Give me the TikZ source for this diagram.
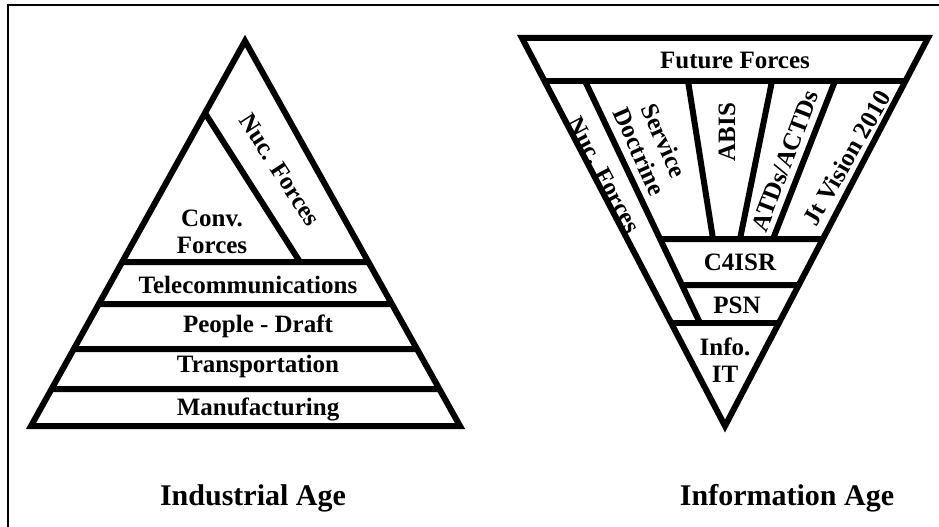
\documentclass[tikz,border=0pt]{standalone}
\usepackage{fontspec}
\setmainfont{Liberation Serif}
\tikzset{
    %heavy outline of the pyramids
    heavy/.style={line width=6pt, line join=miter},
    lbl/.style={font=\fontsize{25}{27}\selectfont\bfseries, inner sep=0pt, align=center},
}

\begin{document}
\begin{tikzpicture}[x=1pt, y=-1pt,
    agelbl/.style={font=\fontsize{30}{34}\selectfont\bfseries, inner sep=0pt},
  ]
  \useasboundingbox (0,0) rectangle (939,527);
  \draw[line width=2.5pt] (8,527) -- (8,5) -- (939,5);
  % industrial age
  \coordinate (iTop) at (245,41);
  \coordinate (iLeft) at (31,426);
  \coordinate (iRight) at (460,426);
  \draw[heavy] (iTop) -- (iLeft) -- (iRight) -- cycle;
  \foreach \y in {262, 304, 349, 389} {
    \draw[heavy] (intersection of iTop--iLeft and 0,\y--1,\y)
      -- (intersection of iTop--iRight and 0,\y--1,\y);
  }
  \coordinate (iSplit) at (intersection of iTop--iLeft and 0,113--1,113);
  \coordinate (iSplitEnd) at (300,262);
  \draw[heavy] (iSplit) -- (iSplitEnd);
  \node[lbl] (conv) at (212,232) {Conv.\\Forces};
  \node[lbl, rotate=-57] (nucInd) at (280,170) {Nuc. Forces};
  \node[lbl] (telecom) at (248,285) {Telecommunications};
  \node[lbl] (people) at (258,326) {People - Draft};
  \node[lbl] (transport) at (258,366) {Transportation};
  \node[lbl] (manuf) at (258,409) {Manufacturing};
  \node[agelbl] (indAge) at (253,498) {Industrial Age};
  % information age
  \coordinate (nLeft) at (522,38);
  \coordinate (nRight) at (928,38);
  \coordinate (nTip) at (725,426);
  \coordinate (nucTop) at (585,81);
  \coordinate (nucEnd) at (700,323);
  \draw[heavy] (nLeft) -- (nRight) -- (nTip) -- cycle;
  \draw[heavy] (intersection of nLeft--nTip and 0,81--1,81)
    -- (intersection of nRight--nTip and 0,81--1,81);
  \draw[heavy] (intersection of nLeft--nTip and 0,323--1,323)
    -- (intersection of nRight--nTip and 0,323--1,323);
  \foreach \y in {239, 285} {
    \draw[heavy] (intersection of nucTop--nucEnd and 0,\y--1,\y)
      -- (intersection of nRight--nTip and 0,\y--1,\y);
  }
  \draw[heavy] (nucTop) -- (nucEnd);
  \draw[heavy] (688,81) -- (713,239);
  \draw[heavy] (772,81) -- (740,239);
  \draw[heavy] (835,81) -- (773,239);
  \node[lbl] (future) at (735,60) {Future Forces};
  \node[lbl, rotate=-62] (nucInfo) at (604,175) {Nuc. Forces};
  \node[lbl, rotate=-66] (doctrine) at (652,146) {Service\\Doctrine};
  \node[lbl, rotate=90] (abis) at (727,132) {ABIS};
  \node[lbl, rotate=69] (atds) at (785,161) {ATDs/ACTDs};
  \node[lbl, rotate=60] (jtVision) at (847,158) {Jt Vision 2010};
  \node[lbl] (c4isr) at (740,262) {C4ISR};
  \node[lbl] (psn) at (737,305) {PSN};
  \node[lbl] (infoIT) at (725,360) {Info.\\IT};
  \node[agelbl] (infoAge) at (787,498) {Information Age};
\end{tikzpicture}
\end{document}
